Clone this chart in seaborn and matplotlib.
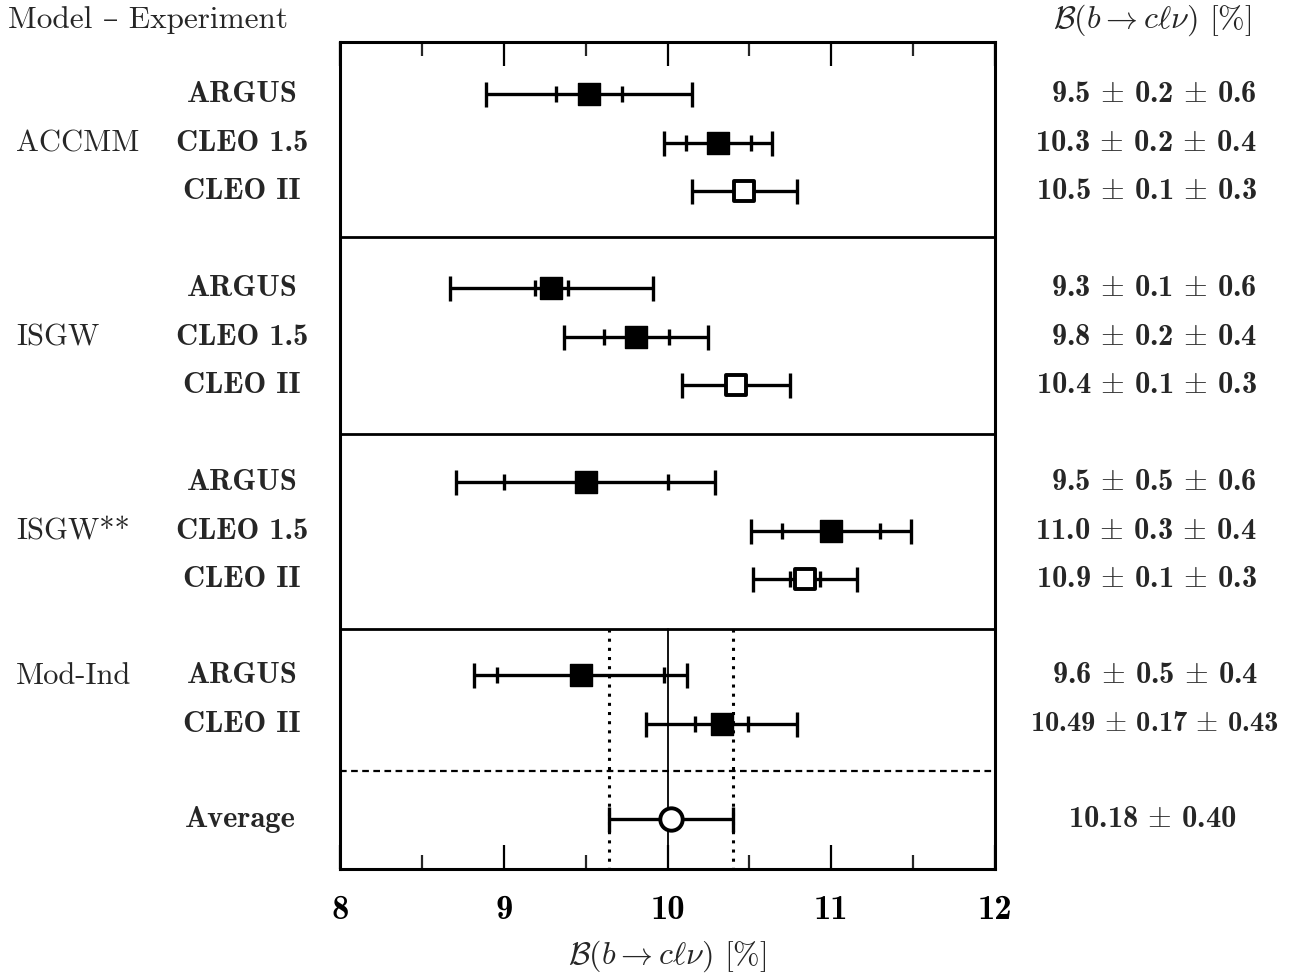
import numpy as np
import matplotlib
matplotlib.use("Agg")
import matplotlib.pyplot as plt
import matplotlib.transforms as mtrans
import seaborn as sns
import pandas as pd

# ---------------- data ----------------
models = ["ACCMM", "ISGW", "ISGW**", "Mod-Ind"]
experiments = [
    ["ARGUS", "CLEO 1.5", "CLEO II"],
    ["ARGUS", "CLEO 1.5", "CLEO II"],
    ["ARGUS", "CLEO 1.5", "CLEO II"],
    ["ARGUS", "CLEO II"],
]
central = [9.52, 10.31, 10.47, 9.29, 9.81, 10.42, 9.50, 11.00, 10.84, 9.47, 10.33]
stat_err = [0.20, 0.20, np.nan, 0.10, 0.20, np.nan, 0.50, 0.30, 0.09, 0.51, 0.16]
total_err = [0.63, 0.33, 0.32, 0.62, 0.44, 0.33, 0.79, 0.49, 0.32, 0.65, 0.46]
marker_kind = ["filled", "filled", "open", "filled", "filled", "open",
               "filled", "filled", "open", "filled", "filled"]
value_labels = [
    "9.5 $\\pm$ 0.2 $\\pm$ 0.6", "10.3 $\\pm$ 0.2 $\\pm$ 0.4", "10.5 $\\pm$ 0.1 $\\pm$ 0.3",
    "9.3 $\\pm$ 0.1 $\\pm$ 0.6", "9.8 $\\pm$ 0.2 $\\pm$ 0.4", "10.4 $\\pm$ 0.1 $\\pm$ 0.3",
    "9.5 $\\pm$ 0.5 $\\pm$ 0.6", "11.0 $\\pm$ 0.3 $\\pm$ 0.4", "10.9 $\\pm$ 0.1 $\\pm$ 0.3",
    "9.6 $\\pm$ 0.5 $\\pm$ 0.4", "10.49 $\\pm$ 0.17 $\\pm$ 0.43",
]
avg_value = 10.02
avg_err = 0.38
avg_label = "10.18 $\\pm$ 0.40"
xticks_major = [8, 9, 10, 11, 12]

# ---------------- layout (pixel-like y units) ----------------
panel_tops = [43, 238, 435, 630]
first_offset = [52, 51, 48, 46]
row_step = 48.5
dash_y = 772
avg_y = 820
y_bottom = 870

rows_y = []
model_y = []
for p, exps in enumerate(experiments):
    ys = [panel_tops[p] + first_offset[p] + k * row_step for k in range(len(exps))]
    rows_y += ys
    model_y.append(ys[1] if len(exps) == 3 else ys[0])
exp_flat = [e for exps in experiments for e in exps]

df = pd.DataFrame({"x": central, "y": rows_y, "kind": marker_kind,
                   "stat": stat_err, "tot": total_err})

# ---------------- style ----------------
sns.set_theme(style="white")
plt.rcParams["mathtext.fontset"] = "cm"
BOLD = ["cmb10", "DejaVu Serif"]
REG = ["cmr10", "DejaVu Serif"]
plt.rcParams["font.family"] = BOLD
plt.rcParams["axes.unicode_minus"] = False

W, H = 1299, 978
fig = plt.figure(figsize=(W / 100, H / 100), dpi=100)
ax = fig.add_axes([340 / W, (H - y_bottom) / H, (995 - 340) / W, (y_bottom - 43) / H])
ax.set_xlim(8, 12)
ax.set_ylim(y_bottom, 43)

# error bars
ax.errorbar(df["x"], df["y"], xerr=df["tot"], fmt="none", ecolor="black",
            elinewidth=2.4, capsize=9, capthick=2.4, zorder=3)
m = df["stat"].notna()
ax.errorbar(df.loc[m, "x"], df.loc[m, "y"], xerr=df.loc[m, "stat"], fmt="none",
            ecolor="black", elinewidth=0, capsize=5.5, capthick=2.4, zorder=3)
ax.errorbar([avg_value], [avg_y], xerr=[avg_err], fmt="none", ecolor="black",
            elinewidth=2.4, capsize=9, capthick=2.4, zorder=3)

# markers
sns.scatterplot(data=df[df["kind"] == "filled"], x="x", y="y", marker="s", s=230,
                color="black", edgecolor="black", linewidth=1, ax=ax, zorder=5, legend=False)
sns.scatterplot(data=df[df["kind"] == "open"], x="x", y="y", marker="s", s=200,
                color="white", edgecolor="black", linewidth=2.8, ax=ax, zorder=5, legend=False)
sns.scatterplot(x=[avg_value], y=[avg_y], marker="o", s=260, color="white",
                edgecolor="black", linewidth=2.8, ax=ax, zorder=5, legend=False)

# separators
for yy in panel_tops[1:]:
    ax.axhline(yy, color="black", lw=2.0, zorder=2)
ax.axhline(dash_y, color="black", lw=1.6, ls=(0, (3, 2)), zorder=2)
ax.plot([avg_value - 0.02, avg_value - 0.02], [panel_tops[3], y_bottom], color="black", lw=1.3, zorder=2)
for xv in [avg_value - avg_err, avg_value + avg_err]:
    ax.plot([xv, xv], [panel_tops[3], y_bottom], color="black", lw=2.2, ls=(0, (1, 2.0)), zorder=2)

# axes styling
for s in ax.spines.values():
    s.set_linewidth(2.2)
    s.set_color("black")
ax.set_xticks(xticks_major)
ax.set_xticks(np.arange(8.5, 12, 1.0), minor=True)
ax.set_xticklabels([str(t) for t in xticks_major], fontfamily=BOLD, fontsize=25)
ax.tick_params(axis="x", which="major", direction="in", length=17, width=1.6,
               top=True, bottom=True, pad=18, colors="black")
ax.tick_params(axis="x", which="minor", direction="in", length=10, width=1.6,
               top=True, bottom=True)
ax.set_yticks([])
ax.set_xlabel(r"$\mathcal{B}(b\rightarrow c\ell\nu)$ [%]", fontsize=23,
              fontfamily=REG, va="center")
ax.xaxis.set_label_coords(0.5, (y_bottom - 956) / (y_bottom - 43))
ax.set_ylabel("")

# texts
tr = mtrans.blended_transform_factory(fig.transFigure, ax.transData)
fig.text(8 / W, 1 - 20 / H, "Model – Experiment", family=REG, fontsize=22.5,
         ha="left", va="center")
fig.text(1252 / W, 1 - 20 / H, r"$\mathcal{B}(b\rightarrow c\ell\nu)$ [%]",
         family=REG, fontsize=23, ha="right", va="center")
for name, yy in zip(models, model_y):
    ax.text(16 / W, yy, name, transform=tr, family=REG, fontsize=22, ha="left", va="center")
for e, yy in zip(exp_flat, rows_y):
    ax.text(242 / W, yy, e, transform=tr, family=BOLD, fontsize=22, ha="center", va="center")
ax.text(240 / W, avg_y, "Average", transform=tr, family=BOLD, fontsize=22,
        ha="center", va="center")
for i, (lab, yy) in enumerate(zip(value_labels, rows_y)):
    if i < 9:
        ax.text(1257 / W, yy, lab, transform=tr, family=BOLD, fontsize=22,
                ha="right", va="center")
    else:
        ax.text(1155 / W, yy, lab, transform=tr, family=BOLD,
                fontsize=22 if i == 9 else 20.5, ha="center", va="center")
ax.text(1152 / W, avg_y, avg_label, transform=tr, family=BOLD, fontsize=22,
        ha="center", va="center")

fig.savefig("out.png", dpi=100, facecolor="white")
